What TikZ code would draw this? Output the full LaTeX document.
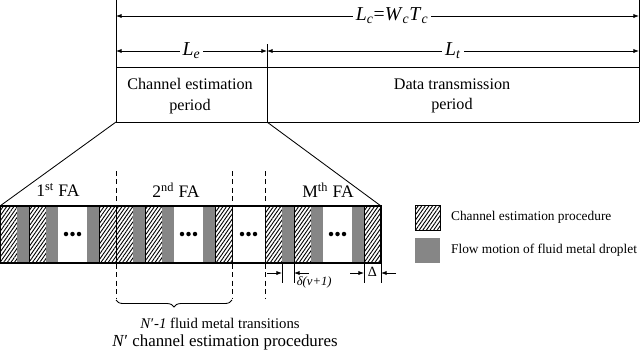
\documentclass[tikz,border=0pt]{standalone}
\usepackage{fontspec}
\setmainfont{Liberation Serif}
\usetikzlibrary{patterns.meta,arrows.meta,decorations.pathreplacing}
\tikzset{
  dimline/.style={{Latex[length=4pt,width=3pt]}-{Latex[length=4pt,width=3pt]},line width=0.6pt},
  markarrow/.style={-{Latex[length=4pt,width=3pt]},line width=0.6pt},
  hatchstrip/.style={pattern={Lines[angle=55,distance=2.1pt,line width=0.65pt]},draw=black,line width=0.3pt},
  flowstrip/.style={fill=gray!95},
  sepline/.style={dash pattern=on 3.5pt off 2.5pt,line width=0.6pt},
  dotmark/.style={circle,fill=black,inner sep=0pt,minimum size=3.2pt}
}
\newcommand{\fsz}[2]{\fontsize{#1}{#2}\selectfont}
\begin{document}
\begin{tikzpicture}[x=0.025cm,y=-0.025cm,line width=0.6pt]
\useasboundingbox (0,0) rectangle (640,350);
% frame period
\coordinate (ltop) at (116,0);
\coordinate (lbot) at (116,122);
\coordinate (rtop) at (639,0);
\coordinate (rbot) at (639,122);
\coordinate (mtop) at (267,44);
\coordinate (mbot) at (267,122);
\draw (ltop) -- (lbot);
\draw (rtop) -- (rbot);
\draw (mtop) -- (mbot);
\draw (116,67) -- (639,67);
\draw (lbot) -- (rbot);
\node[align=center,font=\fsz{11.5}{14.5}] (cep) at (190,96) {Channel estimation\\period};
\node[align=center,font=\fsz{11.5}{14.5}] (dtp) at (452,96) {Data transmission\\period};
% lengths
\coordinate (lca) at (116,16);
\coordinate (lcb) at (639,16);
\coordinate (lea) at (116,51);
\coordinate (leb) at (267,51);
\coordinate (lta) at (639,51);
\draw[dimline] (lca) -- node[pos=0.528,fill=white,inner sep=2pt,font=\fsz{14}{14}] (lc) {\textit{L}\textsubscript{\textit{c}}=\textit{W}\textsubscript{\textit{c}}\textit{T}\textsubscript{\textit{c}}} (lcb);
\draw[dimline] (lea) -- node[fill=white,inner sep=2pt,font=\fsz{14}{14}] (le) {\textit{L}\textsubscript{\textit{e}}} (leb);
\draw[dimline] (leb) -- node[fill=white,inner sep=2pt,font=\fsz{14}{14}] (lt) {\textit{L}\textsubscript{\textit{t}}} (lta);
% zoom lines
\coordinate (barl) at (0,206);
\coordinate (barr) at (381,206);
\draw (lbot) -- (barl);
\draw (mbot) -- (barr);
% strips
\foreach \s in {0,116,265}{
  \foreach \a/\b in {0/17,29/46,99/116}
    \draw[hatchstrip] (\s+\a,206) rectangle (\s+\b,263);
  \foreach \a/\b in {17/29,46/58,87/99}
    \fill[flowstrip] (\s+\a,206) rectangle (\s+\b,263);
  \foreach \d in {-6.5,0,6.5}
    \node[dotmark] at (\s+72.5+\d,234) {};
}
\foreach \d in {-6.5,0,6.5}
  \node[dotmark] at (248.5+\d,234) {};
\draw[line width=0.8pt] (0,206) rectangle (381,263);
% FA labels
\node[font=\fsz{12.5}{12.5}] (fa1) at (58,190) {1\textsuperscript{st} FA};
\node[font=\fsz{12.5}{12.5}] (fa2) at (176,190) {2\textsuperscript{nd} FA};
\node[font=\fsz{12.5}{12.5}] (fam) at (328,190) {M\textsuperscript{th} FA};
% separators
\draw[sepline] (116,171) -- (116,298);
\draw[sepline] (232,171) -- (232,298);
\draw[sepline] (265,171) -- (265,298);
\coordinate (bra) at (116,300);
\coordinate (brb) at (232,300);
\draw[decorate,decoration={brace,mirror,amplitude=5pt}] (bra) -- (brb);
\node[font=\fsz{10.5}{10.5}] (ntr) at (220,323) {\textit{N}′\textit{-1} fluid metal transitions};
\node[font=\fsz{12}{12}] (nce) at (225,342) {\textit{N}′ channel estimation procedures};
% delta marks
\coordinate (ta) at (282,263);
\coordinate (tb) at (294,263);
\coordinate (tc) at (364,263);
\coordinate (td) at (381,263);
\draw[line width=0.5pt] (ta) -- ++(0,20);
\draw[line width=0.5pt] (tb) -- ++(0,20);
\draw[line width=0.5pt] (tc) -- ++(0,20);
\draw[line width=0.5pt] (td) -- ++(0,20);
\coordinate (aa) at (267,273);
\coordinate (ab) at (282,273);
\coordinate (ac) at (309,273);
\coordinate (ad) at (294,273);
\coordinate (ae) at (350,273);
\coordinate (af) at (364,273);
\coordinate (ag) at (396,273);
\coordinate (ah) at (381,273);
\draw[markarrow] (aa) -- (ab);
\draw[markarrow] (ac) -- (ad);
\draw[markarrow] (ae) -- (af);
\draw[markarrow] (ag) -- (ah);
\node[anchor=west,font=\fsz{9}{9},inner sep=1pt] (dv) at (295,282) {\textit{δ(v+1)}};
\node[font=\fsz{10}{10}] (dl) at (372.5,272) {Δ};
% legend
\draw[hatchstrip] (415,205) rectangle (440,230);
\fill[flowstrip] (415,238) rectangle (440,263);
\node[anchor=west,font=\fsz{9.5}{9.5}] (lg1) at (446,217.5) {Channel estimation procedure};
\node[anchor=west,font=\fsz{9.5}{9.5}] (lg2) at (446,250.5) {Flow motion of fluid metal droplet};
\end{tikzpicture}
\end{document}
